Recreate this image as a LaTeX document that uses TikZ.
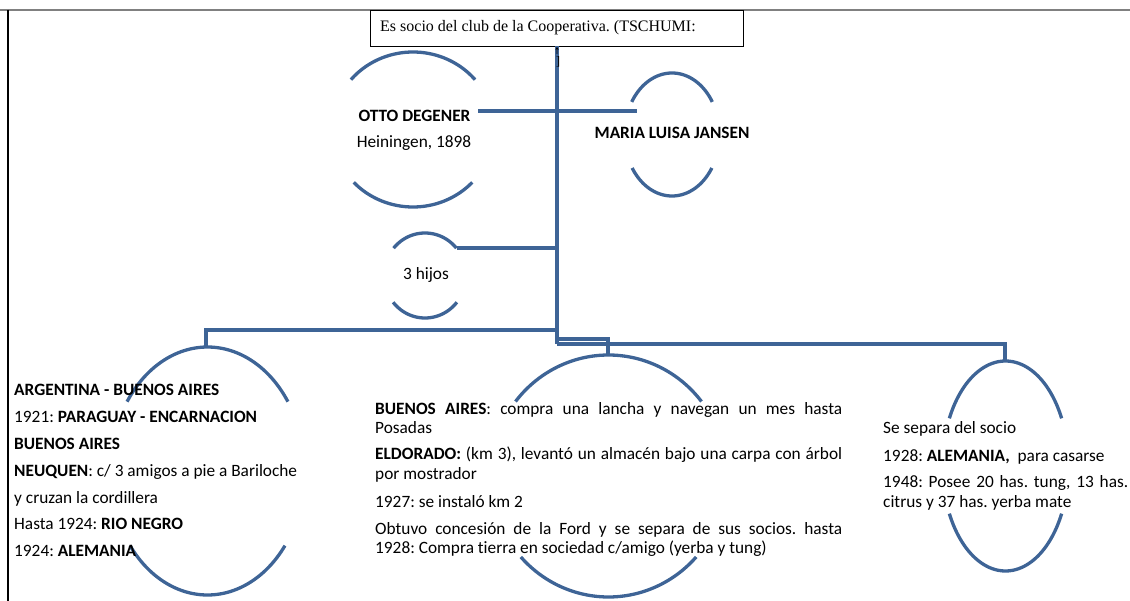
\documentclass[tikz,border=0pt]{standalone}
\usepackage{fontspec}
\setmainfont{Carlito}[Ligatures={NoCommon}]
\newfontfamily\serifbox{Liberation Serif}
\usetikzlibrary{arrows.meta}
\definecolor{lineblue}{RGB}{62,100,150}
\frenchspacing
\tikzset{
  branch/.style={draw=lineblue, line width=3.3pt},
  txt/.style={anchor=base west, inner sep=0pt, text=black, font=\fontsize{17.3}{20}\selectfont},
  ctxt/.style={txt, anchor=base},
  boxtxt/.style={anchor=base west, inner sep=0pt, font=\serifbox\fontsize{16}{18}\selectfont}
}
\newcommand{\ovalarcs}[6]{%
  \draw[branch] plot[domain=180+#5:360-#5, samples=60] ({#1+#3*cos(\x)},{#2+#4*sin(\x)});
  \draw[branch] plot[domain=#6:180-#6, samples=60] ({#1+#3*cos(\x)},{#2+#4*sin(\x)});}
\begin{document}
\begin{tikzpicture}[x=1pt,y=-1pt]
\useasboundingbox (0,0) rectangle (1130,601);
% page frame
\draw[gray, line width=2pt] (0,10) -- (1130,10);
\draw[black, line width=1.2pt] (8,10) -- (8,601);
% top box
\node[draw=black, line width=0.9pt, anchor=north west, minimum width=373pt, minimum height=36pt, inner sep=0pt] (topbox) at (370,10) {};
\node[boxtxt] (boxtext) at (380,32) {Es socio del club de la Cooperativa. (TSCHUMI:};
% coordinates
\coordinate (trunktop) at (557,46);
\coordinate (trunkbot) at (557,344);
\coordinate (ottoR) at (478,111);
\coordinate (mariaL) at (637,111);
\coordinate (hijosR) at (457,248);
\coordinate (hijosJ) at (557,248);
\coordinate (leftJ) at (557,330);
\coordinate (leftTop) at (206,347);
\coordinate (midJ) at (557,339);
\coordinate (midTop) at (608,355);
\coordinate (rightTop) at (1005,361);
% ovals
\ovalarcs{413}{129.5}{81}{77.5}{40}{43}
\ovalarcs{672}{134.5}{47.5}{61.5}{32}{33}
\ovalarcs{425}{275.5}{41}{42.5}{40}{39}
\ovalarcs{207.5}{471}{97}{124}{34}{37}
\ovalarcs{608.5}{476}{118}{121}{38}{42}
\ovalarcs{1005.5}{466}{63}{105}{27}{27}
% connectors
\draw[branch] (trunktop) -- (trunkbot);
\draw[branch] (ottoR) -- (mariaL);
\draw[branch] (hijosR) -- (hijosJ);
\draw[branch] (leftJ) -| (leftTop);
\draw[branch] (midJ) -| (midTop);
\draw[branch] (trunkbot) -| (rightTop);
\draw[black, line width=0.6pt, -{Stealth[length=3pt,width=3pt]}] (557,54) -- (topbox.south);
\node[boxtxt, font=\serifbox\fontsize{13}{14}\selectfont, anchor=base] (bracket) at (558,66) {]};
% person texts
\node[ctxt, font=\bfseries\fontsize{17.3}{20}\selectfont] (otto) at (414.5,122) {OTTO DEGENER};
\node[ctxt] (ottob) at (414,148) {Heiningen, 1898};
\node[ctxt, font=\bfseries\fontsize{17.3}{20}\selectfont] (maria) at (672,139) {MARIA LUISA JANSEN};
\node[ctxt] (hijos) at (426,280) {3 hijos};
% left block
\node[txt] (l1) at (14,396) {\textbf{ARGENTINA - BUENOS AIRES}};
\node[txt] (l2) at (14,422.5) {1921: \textbf{PARAGUAY - ENCARNACION}};
\node[txt] (l3) at (14,449.5) {\textbf{BUENOS AIRES}};
\node[txt] (l4) at (14,476) {\textbf{NEUQUEN}: c/ 3 amigos a pie a Bariloche};
\node[txt] (l5) at (14,503) {y cruzan la cordillera};
\node[txt] (l6) at (14,529.5) {Hasta 1924: \textbf{RIO NEGRO}};
\node[txt] (l7) at (14,556.5) {1924: \textbf{ALEMANIA}};
% middle block
\node[txt] (m1) at (375,415) {\makebox[467pt][s]{\textbf{BUENOS AIRES}: compra una lancha y navegan un mes hasta}};
\node[txt] (m2) at (375,434) {Posadas};
\node[txt] (m3) at (375,459) {\makebox[467pt][s]{\textbf{ELDORADO:} (km 3), levantó un almacén bajo una carpa con árbol}};
\node[txt] (m4) at (375,479) {por mostrador};
\node[txt] (m5) at (375,507) {1927: se instaló km 2};
\node[txt] (m6) at (375,534) {\makebox[467pt][s]{Obtuvo concesión de la Ford y se separa de sus socios. hasta}};
\node[txt] (m7) at (375,553) {1928: Compra tierra en sociedad c/amigo (yerba y tung)};
% right block
\node[txt] (r1) at (883,434) {Se separa del socio};
\node[txt] (r2) at (883,461) {1928: \textbf{ALEMANIA,}\ \ para casarse};
\node[txt] (r3) at (883,487) {\makebox[245pt][s]{1948: Posee 20 has. tung, 13 has.}};
\node[txt] (r4) at (883,507) {citrus y 37 has. yerba mate};
\end{tikzpicture}
\end{document}
